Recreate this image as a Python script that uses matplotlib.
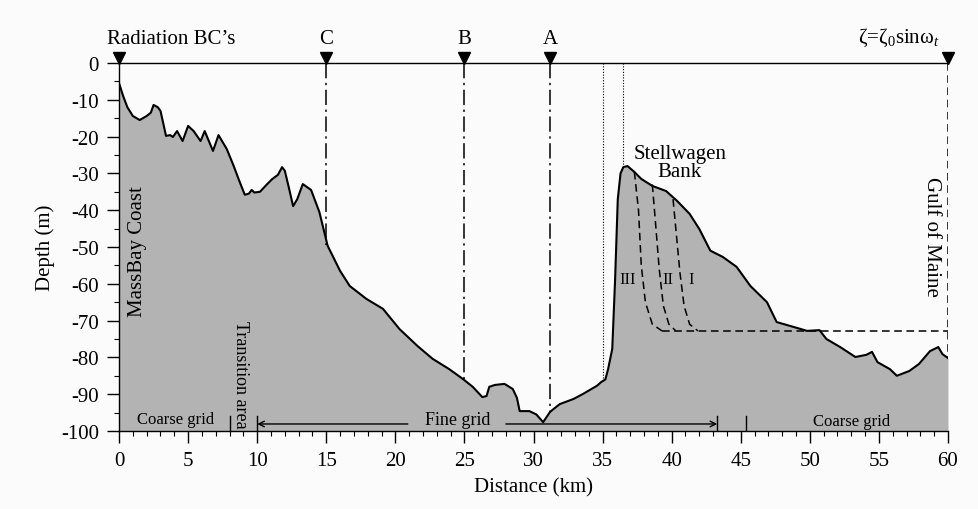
import numpy as np
import matplotlib
matplotlib.use('Agg')
import matplotlib.pyplot as plt
from matplotlib.ticker import MultipleLocator

plt.rcParams['font.family'] = ['Liberation Serif', 'DejaVu Serif']
plt.rcParams['mathtext.fontset'] = 'custom'
plt.rcParams['mathtext.rm'] = 'Liberation Serif'
plt.rcParams['mathtext.it'] = 'Liberation Serif:italic'
plt.rcParams['axes.unicode_minus'] = False

# bathymetry section, distance (km) vs depth (m)
dist = [0.0, 0.3, 0.6, 1.0, 1.5, 2.0, 2.3, 2.5, 2.8, 3.0, 3.4, 3.7, 3.9, 4.2, 4.6,
        5.0, 5.4, 5.9, 6.2, 6.8, 7.2, 7.8, 8.3, 8.7, 9.1, 9.4, 9.6, 9.8, 10.2, 10.7,
        11.1, 11.5, 11.8, 12.0, 12.3, 12.6, 12.9, 13.3, 13.9, 14.5, 15.1, 15.5, 16.0,
        16.7, 17.9, 19.1, 20.3, 21.6, 22.7, 23.9, 24.9, 25.6, 26.3, 26.6, 26.8, 27.2,
        27.9, 28.5, 28.8, 29.0, 29.7, 30.2, 30.7, 31.2, 31.9, 32.9, 33.6, 34.6, 34.9,
        35.2, 35.4, 35.7, 35.9, 36.1, 36.3, 36.5, 36.8, 37.3, 37.8, 38.6, 39.6, 40.4,
        41.3, 42.0, 42.8, 43.7, 44.7, 45.7, 46.9, 47.6, 48.8, 49.8, 50.7, 51.2, 52.2,
        53.3, 54.1, 54.5, 54.9, 55.8, 56.3, 57.2, 57.9, 58.7, 59.3, 59.6, 60.0]
depth = [-5.5, -9, -12, -14.4, -15.5, -14.4, -13.5, -11.4, -12, -13, -19.8, -19.6, -20.1,
         -18.5, -21.2, -17.1, -18.5, -21.2, -18.5, -23.9, -19.6, -23.4, -28, -32, -35.8,
         -35.5, -34.5, -35.2, -35, -33, -31.5, -30.4, -28.3, -29.3, -34, -38.9, -37,
         -32.9, -34.5, -40.5, -49.7, -52.7, -56.5, -60.6, -64.1, -66.8, -72.3, -76.9,
         -80.4, -83.2, -85.9, -88, -90.8, -90.5, -88, -87.5, -87.2, -88.6, -91, -94.6,
         -94.6, -95.5, -97.6, -94.8, -92.7, -91.3, -89.9, -87.7, -86.7, -86, -83.2,
         -77.7, -59.5, -37, -30, -28.3, -28, -29.6, -31.5, -33.4, -34.8, -37.5, -41,
         -45.1, -51, -52.7, -55.4, -60.6, -65, -70.4, -71.7, -72.8, -72.6, -75, -77.2,
         -79.9, -79.3, -78.5, -81.3, -83.2, -85, -83.7, -81.8, -78.3, -77.2, -79.1, -80.2]

# open boundaries / sections marked on the surface
bc_x = [0, 15, 25, 31.2, 60]
bc_bottom = [-5.5, -49.5, -86, -95, -80.2]
section_labels = ['C', 'B', 'A']

# dotted lines near the bank
dot_x = [35.0, 36.5]
dot_bottom = [-86.5, -28.3]

# dashed curves I, II, III
curve3_x = [37.3, 37.6, 37.8, 38.1, 38.6, 39.3]
curve3_y = [-29.6, -40, -55, -65, -71, -72.8]
curve2_x = [38.6, 38.8, 39.1, 39.4, 39.8, 40.3]
curve2_y = [-33, -42, -56, -66, -71, -72.8]
curve1_x = [40.1, 40.3, 40.6, 40.9, 41.3, 41.9]
curve1_y = [-37, -45, -57, -66, -71, -72.8]
flat_depth = -72.8

# grid regions along the bottom
grid_ticks = [8.0, 10.0, 43.3, 45.4]
fine_start, fine_end = 10.0, 43.3

fig = plt.figure(figsize=(9.79, 5.10), dpi=100, facecolor='#fbfbfb')
ax = fig.add_axes([0.1216, 0.153, 0.8467, 0.7215])
ax.set_facecolor('#fbfbfb')

ax.fill_between(dist, depth, -100, color='#b3b3b3', lw=0)
ax.plot(dist, depth, color='black', lw=1.5)

# section lines
dashdot = (0, (10, 3, 1.5, 3))
for xx, yb in zip(bc_x[1:4], bc_bottom[1:4]):
    ax.plot([xx, xx], [0, yb], color='black', lw=1.1, ls=dashdot)
ax.plot([bc_x[4]] * 2, [0, bc_bottom[4]], color='black', lw=1.1, ls=(0, (5, 3)))
for xx, yb in zip(dot_x, dot_bottom):
    ax.plot([xx, xx], [0, yb], color='black', lw=0.8, ls=(0, (1, 1.5)))

# dashed curves
for cx, cy in [(curve3_x, curve3_y), (curve2_x, curve2_y), (curve1_x, curve1_y)]:
    ax.plot(cx, cy, color='black', lw=1.1, ls=(0, (5, 3)))
ax.plot([curve3_x[-1], 60], [flat_depth, flat_depth], color='black', lw=1.1, ls=(0, (5, 3)))

ax.text(36.8, -58.7, 'III', fontsize=12, ha='center', va='center')
ax.text(39.7, -58.7, 'II', fontsize=12, ha='center', va='center')
ax.text(41.4, -58.7, 'I', fontsize=12, ha='center', va='center')

# triangles and labels on the surface
ax.plot(bc_x, [1.3] * len(bc_x), marker='v', ls='none', color='black', ms=8, clip_on=False)
ax.text(-0.9, 4.0, 'Radiation BC’s', fontsize=15, ha='left', va='bottom')
for xx, lab in zip(bc_x[1:4], section_labels):
    ax.text(xx, 4.0, lab, fontsize=15, ha='center', va='bottom')
ax.text(59.4, 4.0, r'ζ=ζ$_0$sinω$_{\mathit{t}}$', fontsize=15, ha='right', va='bottom')

ax.text(1.3, -51, 'MassBay Coast', fontsize=15, rotation=90, ha='center', va='center')
ax.text(8.8, -84.5, 'Transition area', fontsize=13, rotation=270, ha='center', va='center')
ax.text(58.8, -47, 'Gulf of Maine', fontsize=15, rotation=270, ha='center', va='center')
ax.text(40.6, -27, 'Stellwagen\nBank', fontsize=15, ha='center', va='center', linespacing=0.95)

# grid annotations
for gx in grid_ticks:
    ax.plot([gx, gx], [-96, -100], color='black', lw=1.0)
ax.text(4.1, -96.7, 'Coarse grid', fontsize=12, ha='center', va='center')
ax.text(53.0, -97.3, 'Coarse grid', fontsize=12, ha='center', va='center')
ax.text(24.5, -97.0, 'Fine grid', fontsize=13, ha='center', va='center')
ax.annotate('', xy=(fine_start, -98.1), xytext=(20.9, -98.1),
            arrowprops=dict(arrowstyle='->', lw=1.0, color='black', shrinkA=0, shrinkB=0))
ax.annotate('', xy=(fine_end, -98.1), xytext=(28.0, -98.1),
            arrowprops=dict(arrowstyle='->', lw=1.0, color='black', shrinkA=0, shrinkB=0))

ax.set_xlim(0, 60)
ax.set_ylim(-100, 0)
ax.spines['right'].set_visible(False)
for s in ['left', 'bottom', 'top']:
    ax.spines[s].set_linewidth(1.0)
ax.xaxis.set_major_locator(MultipleLocator(5))
ax.xaxis.set_minor_locator(MultipleLocator(1))
ax.yaxis.set_major_locator(MultipleLocator(10))
ax.yaxis.set_minor_locator(MultipleLocator(5))
ax.tick_params(which='major', direction='out', length=8.5, width=1.0, labelsize=15, pad=6)
ax.tick_params(which='minor', direction='out', length=3.5, width=0.8)
ax.set_xlabel('Distance (km)', fontsize=15, labelpad=5)
ax.set_ylabel('Depth (m)', fontsize=15, labelpad=4)

fig.savefig('out.png', dpi=100, facecolor=fig.get_facecolor())
